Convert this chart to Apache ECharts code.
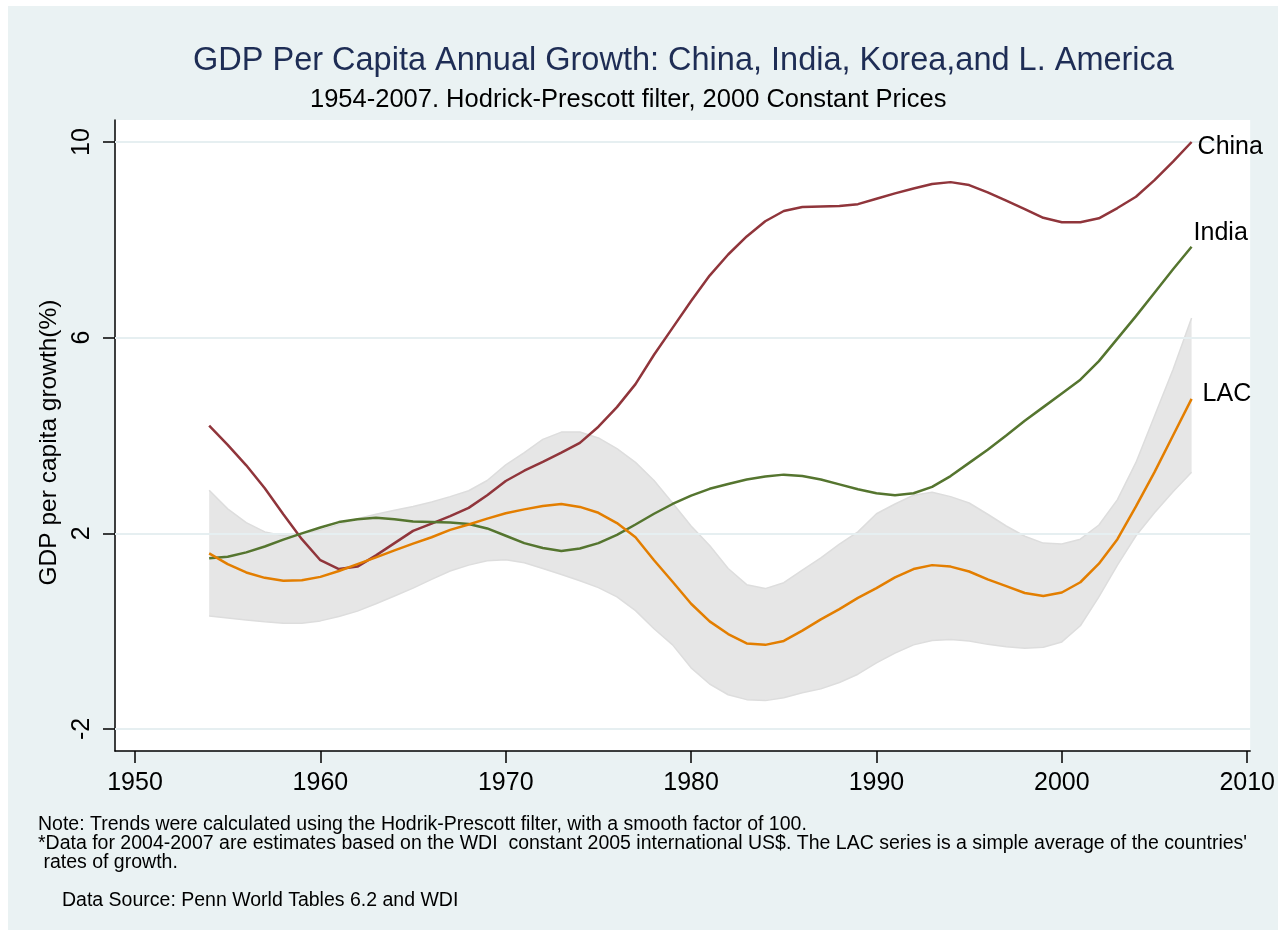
<!DOCTYPE html>
<html>
<head>
<meta charset="utf-8">
<script src="https://cdn.jsdelivr.net/npm/echarts@6/dist/echarts.min.js"></script>
<style>
  html, body { margin: 0; padding: 0; background: #fff; }
  #bg { position: absolute; left: 8px; top: 6px; width: 1270px; height: 924px; background: #eaf2f3; }
  #main { position: absolute; left: 0; top: 0; width: 1278px; height: 930px; }
</style>
</head>
<body>
<div id="bg"></div>
<div id="main"></div>
<script>
var myChart = echarts.init(document.getElementById('main'));

const FONT = '"Liberation Sans", Arial, sans-serif';

const years = [
  1954, 1955, 1956, 1957, 1958, 1959, 1960, 1961, 1962, 1963,
  1964, 1965, 1966, 1967, 1968, 1969, 1970, 1971, 1972, 1973,
  1974, 1975, 1976, 1977, 1978, 1979, 1980, 1981, 1982, 1983,
  1984, 1985, 1986, 1987, 1988, 1989, 1990, 1991, 1992, 1993,
  1994, 1995, 1996, 1997, 1998, 1999, 2000, 2001, 2002, 2003,
  2004, 2005, 2006, 2007
];

const china = [
  4.20, 3.81, 3.39, 2.92, 2.39, 1.88, 1.45, 1.27, 1.32, 1.55,
  1.80, 2.05, 2.20, 2.35, 2.52, 2.78, 3.07, 3.28, 3.46, 3.65,
  3.85, 4.18, 4.58, 5.05, 5.65, 6.20, 6.75, 7.27, 7.70, 8.07,
  8.38, 8.59, 8.67, 8.68, 8.69, 8.73, 8.84, 8.95, 9.05, 9.14,
  9.18, 9.12, 8.97, 8.80, 8.63, 8.45, 8.36, 8.36, 8.44, 8.65,
  8.88, 9.22, 9.60, 10.0
];

const india = [
  1.49, 1.52, 1.61, 1.73, 1.87, 2.00, 2.12, 2.23, 2.29, 2.32,
  2.29, 2.24, 2.23, 2.22, 2.19, 2.10, 1.95, 1.80, 1.70, 1.64,
  1.69, 1.80, 1.97, 2.18, 2.40, 2.60, 2.77, 2.91, 3.01, 3.10,
  3.16, 3.20, 3.17, 3.10, 3.00, 2.90, 2.82, 2.78, 2.82, 2.95,
  3.17, 3.44, 3.71, 4.00, 4.30, 4.58, 4.86, 5.14, 5.52, 5.98,
  6.44, 6.92, 7.40, 7.86
];

const lac = [
  1.59, 1.37, 1.20, 1.09, 1.03, 1.04, 1.11, 1.23, 1.37, 1.51,
  1.65, 1.79, 1.92, 2.07, 2.18, 2.30, 2.41, 2.49, 2.56, 2.60,
  2.54, 2.42, 2.21, 1.92, 1.45, 1.01, 0.56, 0.20, -0.06, -0.25,
  -0.28, -0.20, 0.01, 0.24, 0.45, 0.68, 0.88, 1.10, 1.27, 1.35,
  1.32, 1.22, 1.06, 0.92, 0.78, 0.72, 0.79, 1.00, 1.38, 1.88,
  2.55, 3.25, 4.00, 4.75
];

// grey band round the LAC series
const bandLow = [
  0.31, 0.27, 0.23, 0.19, 0.16, 0.16, 0.21, 0.30, 0.41, 0.56,
  0.72, 0.88, 1.06, 1.23, 1.35, 1.44, 1.46, 1.40, 1.28, 1.16,
  1.03, 0.89, 0.70, 0.42, 0.05, -0.28, -0.75, -1.08, -1.30, -1.40,
  -1.42, -1.36, -1.26, -1.18, -1.05, -0.88, -0.65, -0.45, -0.28, -0.19,
  -0.17, -0.20, -0.27, -0.32, -0.35, -0.33, -0.22, 0.11, 0.70, 1.35,
  1.95, 2.42, 2.85, 3.25
];

const bandHigh = [
  2.88, 2.50, 2.22, 2.03, 1.95, 1.98, 2.07, 2.18, 2.30, 2.39,
  2.47, 2.55, 2.64, 2.75, 2.87, 3.08, 3.40, 3.65, 3.92, 4.07,
  4.07, 3.95, 3.73, 3.45, 3.08, 2.62, 2.15, 1.75, 1.28, 0.95,
  0.87, 0.99, 1.25, 1.50, 1.78, 2.03, 2.40, 2.60, 2.78, 2.84,
  2.75, 2.62, 2.39, 2.15, 1.94, 1.80, 1.78, 1.88, 2.17, 2.69,
  3.45, 4.40, 5.35, 6.40
];

const xTicks = [1950, 1960, 1970, 1980, 1990, 2000, 2010];
const yTicks = [-2, 2, 6, 10];

function pairs(vals) {
  return years.map(function (y, i) { return [y, vals[i]]; });
}

const notes = [
  'Note: Trends were calculated using the Hodrik-Prescott filter, with a smooth factor of 100.',
  '*Data for 2004-2007 are estimates based on the WDI  constant 2005 international US$. The LAC series is a simple average of the countries\'',
  ' rates of growth.'
];

function lineSeries(name, vals, color, offset) {
  return {
    name: name,
    type: 'line',
    data: pairs(vals),
    symbol: 'none',
    z: 5,
    lineStyle: { color: color, width: 2.5 },
    endLabel: {
      show: true,
      formatter: name,
      color: '#000',
      fontSize: 25,
      fontFamily: FONT,
      distance: 5,
      offset: offset
    }
  };
}

function edgeSeries(vals) {
  return {
    type: 'line',
    data: pairs(vals),
    symbol: 'none',
    silent: true,
    z: 3,
    lineStyle: { color: '#dddddd', width: 1.5 }
  };
}

const option = {
  animation: false,
  backgroundColor: 'transparent',
  textStyle: { fontFamily: FONT },
  grid: {
    left: 115, right: 25, top: 120, bottom: 179,
    show: true, backgroundColor: '#fff', borderWidth: 0
  },
  graphic: [
    {
      type: 'text', x: 193, y: 61,
      style: {
        text: 'GDP Per Capita Annual Growth: China, India, Korea,and L. America',
        fill: '#1e2d55', font: '32.5px ' + FONT, verticalAlign: 'middle'
      }
    },
    {
      type: 'text', x: 310, y: 100,
      style: {
        text: '1954-2007. Hodrick-Prescott filter, 2000 Constant Prices',
        fill: '#000', font: '25.5px ' + FONT, verticalAlign: 'middle'
      }
    },
    {
      type: 'text', x: 38, y: 825,
      style: { text: notes[0], fill: '#000', font: '19.5px ' + FONT, verticalAlign: 'middle' }
    },
    {
      type: 'text', x: 38, y: 844,
      style: { text: notes[1], fill: '#000', font: '19.5px ' + FONT, verticalAlign: 'middle' }
    },
    {
      type: 'text', x: 38, y: 863,
      style: { text: notes[2], fill: '#000', font: '19.5px ' + FONT, verticalAlign: 'middle' }
    },
    {
      type: 'text', x: 62, y: 901,
      style: { text: 'Data Source: Penn World Tables 6.2 and WDI', fill: '#000', font: '19.5px ' + FONT, verticalAlign: 'middle' }
    }
  ],
  xAxis: {
    type: 'value',
    min: 1948.92,
    max: 2010.16,
    axisLine: { onZero: false, lineStyle: { color: '#000', width: 1.5 } },
    axisTick: { show: true, length: 12, customValues: xTicks, lineStyle: { color: '#000', width: 1.5 } },
    axisLabel: {
      customValues: xTicks, color: '#000', fontSize: 25, fontFamily: FONT, margin: 20,
      formatter: function (v) { return String(v); }
    },
    splitLine: { show: false }
  },
  yAxis: {
    type: 'value',
    min: -2.45,
    max: 10.45,
    name: 'GDP per capita growth(%)',
    nameLocation: 'middle',
    nameGap: 52,
    nameTextStyle: { color: '#000', fontSize: 24.5, fontFamily: FONT, padding: [0, 14, 0, 0] },
    axisLine: { show: true, onZero: false, lineStyle: { color: '#000', width: 1.5 } },
    axisTick: { show: true, length: 12, customValues: yTicks, lineStyle: { color: '#000', width: 1.5 } },
    axisLabel: { customValues: yTicks, rotate: 90, color: '#000', fontSize: 25, fontFamily: FONT, margin: 20 },
    splitLine: { show: false }
  },
  series: [
    {
      // horizontal grid lines
      type: 'line',
      data: [],
      z: 1,
      silent: true,
      markLine: {
        silent: true,
        symbol: 'none',
        label: { show: false },
        lineStyle: { color: '#e6eff1', width: 2, type: 'solid' },
        data: yTicks.map(function (v) { return { yAxis: v }; })
      }
    },
    {
      // shaded band, one polygon built from the two bound arrays
      type: 'custom',
      data: [[years[0], bandLow[0]]],
      z: 2,
      silent: true,
      renderItem: function (params, api) {
        var top = years.map(function (y, i) { return api.coord([y, bandHigh[i]]); });
        var bottom = years.map(function (y, i) { return api.coord([y, bandLow[i]]); }).reverse();
        return {
          type: 'polygon',
          shape: { points: top.concat(bottom) },
          style: { fill: '#e6e6e6', stroke: null }
        };
      }
    },
    edgeSeries(bandLow),
    edgeSeries(bandHigh),
    lineSeries('China', china, '#90353b', [1, 5]),
    lineSeries('India', india, '#55752f', [-3, -14]),
    lineSeries('LAC', lac, '#e37e00', [6, -5])
  ]
};

myChart.setOption(option);
</script>
</body>
</html>
